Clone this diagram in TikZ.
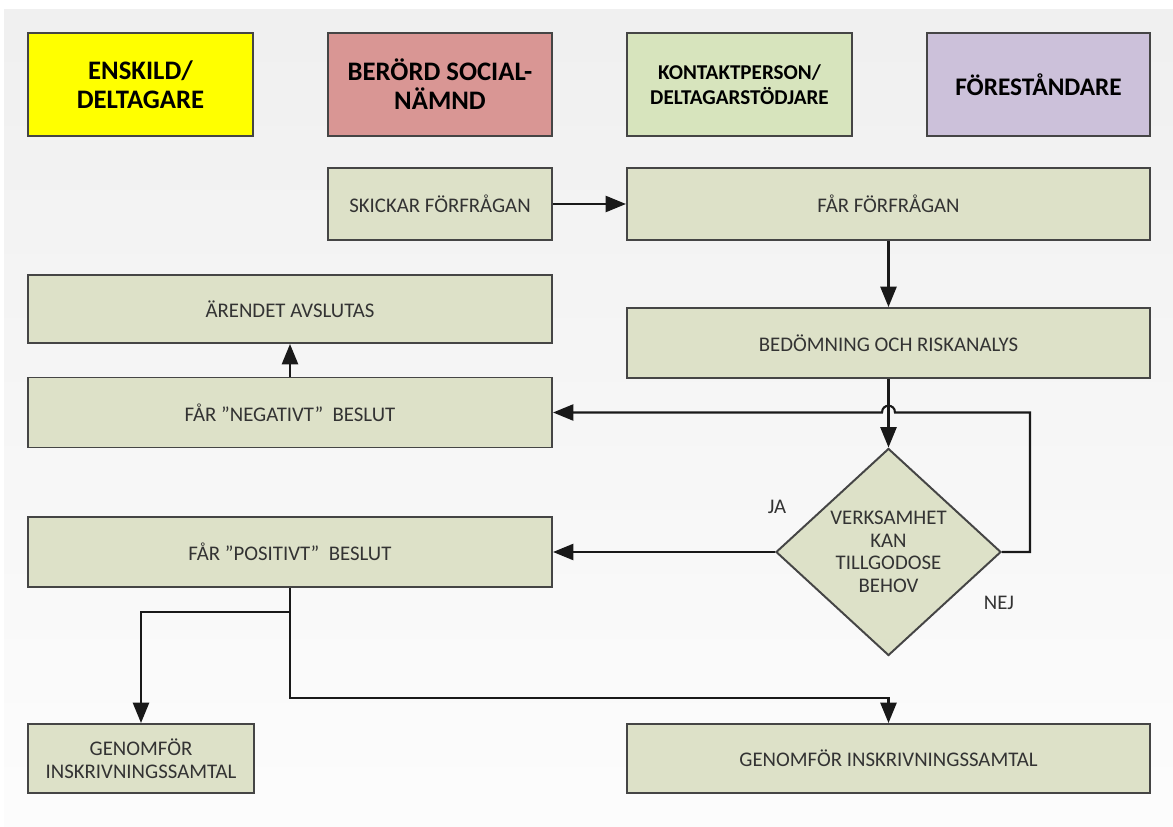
\documentclass[tikz,border=0pt]{standalone}
\usepackage{fontspec}
\setmainfont{Carlito}
\usepackage{xcolor}
\usetikzlibrary{arrows.meta,shapes.geometric}

\definecolor{gul}{HTML}{FFFF00}
\definecolor{rosa}{HTML}{D99694}
\definecolor{ljusgron}{HTML}{D7E4BD}
\definecolor{lila}{HTML}{CCC1DA}
\definecolor{grabox}{HTML}{DDE1C8}
\definecolor{kant}{HTML}{454545}

\tikzset{
  rubrik/.style={draw=kant,line width=1.4pt,align=center,text=black,
    font=\fontsize{19}{20.5}\selectfont\bfseries,minimum height=2.575cm},
  ruta/.style={draw=kant,line width=1.4pt,fill=grabox,text=black!80,align=center,
    font=\fontsize{14.8}{16}\selectfont,minimum height=1.75cm},
  etikett/.style={text=black!80,font=\fontsize{14.8}{16}\selectfont},
  pil/.style={line width=1.5pt,draw=black!90,-{Triangle[width=11.5pt,length=14.5pt]}},
  linje/.style={line width=1.5pt,draw=black!90}
}

\begin{document}
\begin{tikzpicture}[x=0.025cm,y=-0.025cm]
\useasboundingbox (0,0) rectangle (1173,827);
\fill[white] (0,0) rectangle (1173,827);
\shade[top color=black!6,bottom color=black!1] (4,10) rectangle (1173,827);

\node[rubrik,fill=gul,minimum width=5.625cm] (ens) at (140.5,84.5) {ENSKILD/\\DELTAGARE};
\node[rubrik,fill=rosa,minimum width=5.6cm] (soc) at (440,84.5) {BERÖRD SOCIAL-\\NÄMND};
\node[rubrik,fill=ljusgron,minimum width=5.625cm,font=\fontsize{15}{17.8}\selectfont\bfseries] (kon) at (739.5,84.5) {KONTAKTPERSON/\\DELTAGARSTÖDJARE};
\node[rubrik,fill=lila,minimum width=5.575cm,font=\fontsize{18}{20}\selectfont\bfseries] (fore) at (1038.5,84.5) {FÖRESTÅNDARE};

\node[ruta,minimum width=5.6cm,minimum height=1.8cm] (skick) at (440,204) {SKICKAR FÖRFRÅGAN};
\node[ruta,minimum width=13.075cm,minimum height=1.8cm] (farf) at (888.5,204) {FÅR FÖRFRÅGAN};
\node[ruta,minimum width=13.1cm,minimum height=1.7cm] (avsl) at (290,309) {ÄRENDET AVSLUTAS};
\node[ruta,minimum width=13.075cm] (bed) at (888.5,343) {BEDÖMNING OCH RISKANALYS};
\node[ruta,minimum width=13.1cm] (neg) at (290,412.5) {FÅR ”NEGATIVT”\ \ BESLUT};
\node[ruta,diamond,shape aspect=1.09,inner sep=0pt,minimum width=5.625cm,minimum height=5.175cm] (beslut) at (888.5,552) {VERKSAMHET\\KAN\\TILLGODOSE\\BEHOV};
\node[ruta,minimum width=13.1cm] (pos) at (290,552) {FÅR ”POSITIVT”\ \ BESLUT};
\node[ruta,minimum width=5.65cm,minimum height=1.725cm] (gen1) at (141,758.5) {GENOMFÖR\\INSKRIVNINGSSAMTAL};
\node[ruta,minimum width=13.075cm,minimum height=1.725cm] (gen2) at (888.5,758.5) {GENOMFÖR INSKRIVNINGSSAMTAL};

\node[etikett] (ja) at (777,507) {JA};
\node[etikett] (nej) at (999,603) {NEJ};

\coordinate (hoger) at (1030,552);
\coordinate (gren) at (290,612);

\draw[pil] (skick) -- (farf);
\draw[pil] (farf) -- (bed);
\draw[pil] (bed) -- (beslut);
\draw[pil] (beslut.east) -- (hoger) -- (1030,412.5) -- (895,412.5) .. controls (895,403.5) and (882,403.5) .. (882,412.5) -- (neg.east);
\draw[pil] (beslut.west) -- (pos.east);
\draw[pil] (neg) -- (avsl);
\draw[linje] (pos.south) -- (gren);
\draw[pil] (gren) -| (gen1.north);
\draw[pil] (gren) -- (290,698) -| (gen2.north);
\end{tikzpicture}
\end{document}
